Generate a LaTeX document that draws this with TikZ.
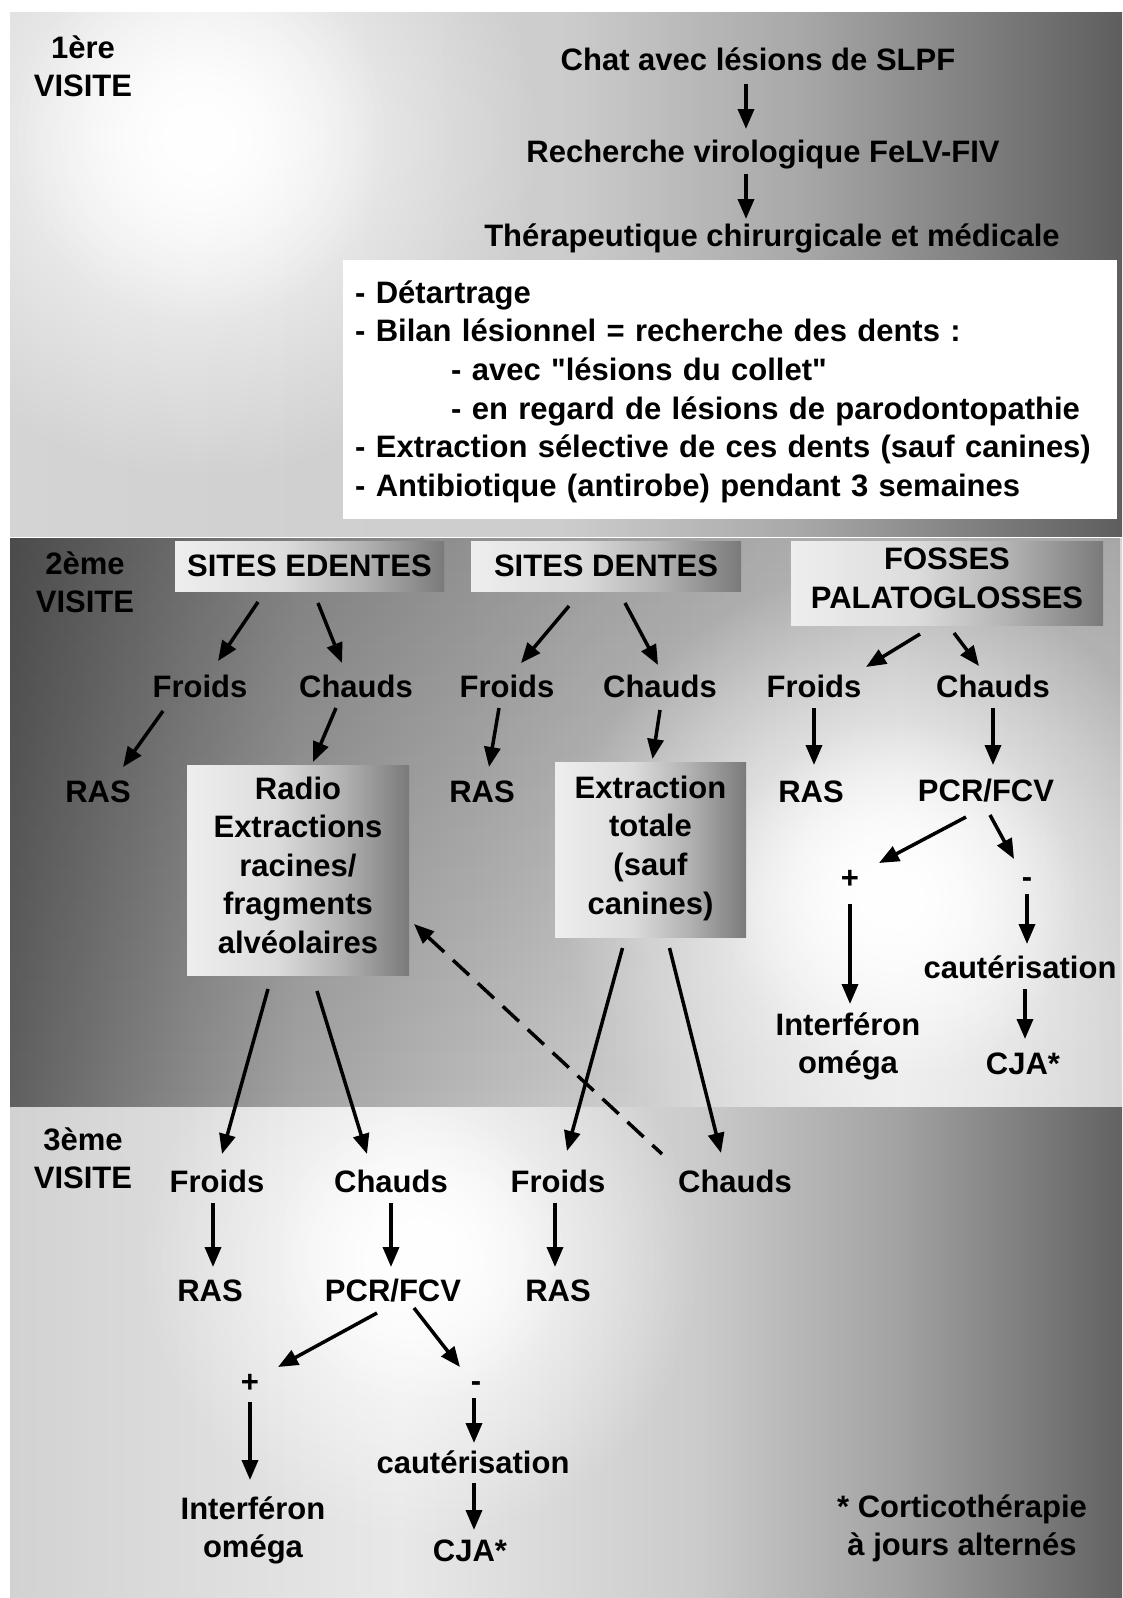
\documentclass[tikz,border=0pt]{standalone}
\usepackage{fontspec}
\setmainfont{Liberation Sans}[Ligatures=TeXOff]
\usetikzlibrary{arrows.meta,fadings}

\definecolor{aA}{HTML}{D4D4D4}\definecolor{aB}{HTML}{CDCDCD}\definecolor{aC}{HTML}{A8A8A8}\definecolor{aD}{HTML}{7A7A7A}\definecolor{aE}{HTML}{5E5E5E}
\definecolor{bA}{HTML}{606060}\definecolor{bB}{HTML}{A4A4A4}\definecolor{bC}{HTML}{CACACA}\definecolor{bD}{HTML}{E6E6E6}\definecolor{bE}{HTML}{D6D6D6}
\definecolor{cA}{HTML}{D2D2D2}\definecolor{cB}{HTML}{E8E8E8}\definecolor{cC}{HTML}{CBCBCB}\definecolor{cD}{HTML}{A2A2A2}\definecolor{cE}{HTML}{626262}
\definecolor{xA}{HTML}{EEEEEE}\definecolor{xB}{HTML}{DCDCDC}\definecolor{xC}{HTML}{B2B2B2}\definecolor{xD}{HTML}{7A7A7A}

\pgfdeclarehorizontalshading{bandA}{100bp}{color(0bp)=(aA); color(25bp)=(aA); color(49.7bp)=(aB); color(60.5bp)=(aC); color(69.5bp)=(aD); color(75bp)=(aE); color(100bp)=(aE)}
\pgfdeclarehorizontalshading{bandB}{100bp}{color(0bp)=(bA); color(25bp)=(bA); color(38bp)=(bB); color(51.5bp)=(bC); color(65bp)=(bD); color(75bp)=(bE); color(100bp)=(bE)}
\pgfdeclarehorizontalshading{bandC}{100bp}{color(0bp)=(cA); color(25bp)=(cA); color(42.5bp)=(cB); color(56bp)=(cC); color(65bp)=(cD); color(75bp)=(cE); color(100bp)=(cE)}
\pgfdeclarehorizontalshading{boxsh}{100bp}{color(0bp)=(xA); color(25bp)=(xA); color(45bp)=(xB); color(60bp)=(xC); color(75bp)=(xD); color(100bp)=(xD)}

\tikzfading[name=spot, inner color=transparent!0, outer color=transparent!100]
\tikzfading[name=topdark, top color=transparent!0, bottom color=transparent!100]

\newcommand\dfont{\bfseries\fontsize{31pt}{38.6pt}\selectfont}

\tikzset{
  lbl/.style={font=\dfont, inner sep=0pt, align=center,
    execute at begin node=\rule{0pt}{30pt},
    execute at end node=\rule[-10pt]{0pt}{10pt}},
  gbox/.style={lbl, shade, shading=boxsh},
  arr/.style={line width=3.5pt, -{Triangle[length=20pt,width=16pt]}},
  darr/.style={line width=3.5pt, dash pattern=on 22pt off 12pt, {Triangle[length=20pt,width=16pt]}-},
}

\begin{document}
\begin{tikzpicture}[x=1pt,y=-1pt]
\useasboundingbox (0,0) rectangle (1122,1598);
\fill[white] (0,0) rectangle (1122,1598);

% band 1
\shade[shading=bandA] (10,12) rectangle (1122,536);
\begin{scope}
  \clip (10,12) rectangle (1122,536);
  \fill[white, path fading=spot] (200,140) circle (340pt);
  \fill[white, path fading=spot] (200,135) circle (190pt);
\end{scope}
% band 2
\shade[shading=bandB] (10,538) rectangle (1122,1106);
\begin{scope}
  \clip (10,538) rectangle (1122,1106);
  \fill[black, opacity=0.22, path fading=topdark] (10,538) rectangle (1122,1106);
  \fill[white, path fading=spot] (880,890) circle (320pt);
  \fill[white, path fading=spot] (900,900) circle (180pt);
\end{scope}
% band 3
\shade[shading=bandC] (10,1107) rectangle (1122,1598);
\begin{scope}
  \clip (10,1107) rectangle (1122,1598);
  \fill[white, path fading=spot] (420,1260) circle (280pt);
  \fill[white, path fading=spot] (420,1255) circle (150pt);
\end{scope}

% ---------- 1st visit
\node[lbl] (v1) at (83,71) {1ère\\VISITE};
\node[lbl] (chat) at (758,60) {Chat avec lésions de SLPF};
\node[lbl] (rech) at (763,152) {Recherche virologique FeLV-FIV};
\node[lbl] (ther) at (772,236) {Thérapeutique chirurgicale et médicale};
\node[lbl, fill=white, anchor=north west, minimum width=771pt, minimum height=259pt,
      align=left, text width=750pt, inner xsep=12pt] (list) at (343,260)
  {- Détartrage\\
   - Bilan lésionnel = recherche des dents :\\
   \hspace*{96pt}- avec "lésions du collet"\\
   \hspace*{96pt}- en regard de lésions de parodontopathie\\
   - Extraction sélective de ces dents (sauf canines)\\
   - Antibiotique (antirobe) pendant 3 semaines};

\draw[arr] ([shift={(-12,24)}]chat.center) -- ([shift={(-17,-23)}]rech.center);
\draw[arr] ([shift={(-17,22)}]rech.center) -- ([shift={(-26,-17)}]ther.center);

% ---------- 2nd visit
\node[lbl] (v2) at (85,587) {2ème\\VISITE};
\node[gbox, minimum width=269pt, minimum height=50pt] (se) at (309.5,566) {SITES EDENTES};
\node[gbox, minimum width=270pt, minimum height=50pt] (sd) at (606,566) {SITES DENTES};
\node[gbox, minimum width=312pt, minimum height=84pt] (fp) at (947,583) {FOSSES\\PALATOGLOSSES};

\node[lbl] (f1) at (200,687) {Froids};
\node[lbl] (c1) at (356,687) {Chauds};
\node[lbl] (f2) at (507,687) {Froids};
\node[lbl] (c2) at (660,687) {Chauds};
\node[lbl] (f3) at (814,687) {Froids};
\node[lbl] (c3) at (993,687) {Chauds};

\node[lbl] (r1) at (98,792) {RAS};
\node[gbox, minimum width=222pt, minimum height=210pt] (radio) at (298,870)
  {Radio\\Extractions\\racines/\\fragments\\alvéolaires};
\node[lbl] (r2) at (482,792) {RAS};
\node[gbox, minimum width=191pt, minimum height=175pt] (ext) at (650.5,850)
  {Extraction\\totale\\(sauf\\canines)};
\node[lbl] (r3) at (811,792) {RAS};
\node[lbl] (pcr1) at (986,791) {PCR/FCV};
\node[lbl] (plus1) at (850,878) {+};
\node[lbl] (minus1) at (1027,877) {-};
\node[lbl] (int1) at (848,1048) {Interféron\\oméga};
\node[lbl] (caut1) at (1020,968) {cautérisation};
\node[lbl] (cja1) at (1023,1064) {CJA*};

\draw[arr] ([shift={(-51.5,36)}]se.center) -- ([shift={(18,-26)}]f1.center);
\draw[arr] ([shift={(8.5,37)}]se.center) -- ([shift={(-14,-24)}]c1.center);
\draw[arr] ([shift={(-37,40)}]sd.center) -- ([shift={(14,-24)}]f2.center);
\draw[arr] ([shift={(19,37)}]sd.center) -- ([shift={(-2,-22)}]c2.center);
\draw[arr] ([shift={(-27,51)}]fp.center) -- ([shift={(52,-20)}]f3.center);
\draw[arr] ([shift={(7,50)}]fp.center) -- ([shift={(-14,-21)}]c3.center);

\draw[arr] ([shift={(-37,24)}]f1.center) -- ([shift={(25,-25)}]r1.center);
\draw[arr] ([shift={(-20,21)}]c1.center) -- ([shift={(15,-108)}]radio.center);
\draw[arr] ([shift={(-8,21)}]f2.center) -- ([shift={(7,-25)}]r2.center);
\draw[arr] ([shift={(0,23)}]c2.center) -- ([shift={(2,-91)}]ext.center);
\draw[arr] ([shift={(0,21)}]f3.center) -- ([shift={(3,-27)}]r3.center);
\draw[arr] ([shift={(0,21)}]c3.center) -- ([shift={(7,-26)}]pcr1.center);
\draw[arr] ([shift={(-20,26)}]pcr1.center) -- ([shift={(29,-15)}]plus1.center);
\draw[arr] ([shift={(4,24)}]pcr1.center) -- ([shift={(-13,-18)}]minus1.center);
\draw[arr] ([shift={(0,26)}]plus1.center) -- ([shift={(2,-44)}]int1.center);
\draw[arr] ([shift={(0,17)}]minus1.center) -- ([shift={(7,-24)}]caut1.center);
\draw[arr] ([shift={(5,21)}]caut1.center) -- ([shift={(2,-25)}]cja1.center);

% ---------- 3rd visit
\node[lbl] (v3) at (83,1163) {3ème\\VISITE};
\node[lbl] (f4) at (217,1182) {Froids};
\node[lbl] (c4) at (391,1182) {Chauds};
\node[lbl] (f5) at (558,1182) {Froids};
\node[lbl] (c5) at (735,1182) {Chauds};
\node[lbl] (r4) at (210,1291) {RAS};
\node[lbl] (pcr2) at (393,1291) {PCR/FCV};
\node[lbl] (r5) at (558,1291) {RAS};
\node[lbl] (plus2) at (250,1382) {+};
\node[lbl] (minus2) at (476,1381) {-};
\node[lbl] (int2) at (253,1532) {Interféron\\oméga};
\node[lbl] (caut2) at (473,1463) {cautérisation};
\node[lbl] (cja2) at (470,1551) {CJA*};
\node[lbl] (note) at (962,1530) {* Corticothérapie\\à jours alternés};

\draw[arr] ([shift={(-30,119)}]radio.center) -- ([shift={(5,-28)}]f4.center);
\draw[arr] ([shift={(19,121)}]radio.center) -- ([shift={(-24,-28)}]c4.center);
\draw[arr] ([shift={(-28,98)}]ext.center) -- ([shift={(9,-31)}]f5.center);
\draw[arr] ([shift={(19,98)}]ext.center) -- ([shift={(-14,-29)}]c5.center);
\draw[darr] ([shift={(116,54)}]radio.center) -- ([shift={(-73,-28)}]c5.center);

\draw[arr] ([shift={(-4,21)}]f4.center) -- ([shift={(3,-24)}]r4.center);
\draw[arr] ([shift={(0,21)}]c4.center) -- ([shift={(-2,-24)}]pcr2.center);
\draw[arr] ([shift={(-3,21)}]f5.center) -- ([shift={(-3,-24)}]r5.center);
\draw[arr] ([shift={(-16,22)}]pcr2.center) -- ([shift={(28,-15)}]plus2.center);
\draw[arr] ([shift={(21,17)}]pcr2.center) -- ([shift={(-16,-14)}]minus2.center);
\draw[arr] ([shift={(0,20)}]plus2.center) -- ([shift={(-3,-52)}]int2.center);
\draw[arr] ([shift={(-2,17)}]minus2.center) -- ([shift={(1,-20)}]caut2.center);
\draw[arr] ([shift={(1,20)}]caut2.center) -- ([shift={(4,-21)}]cja2.center);
\end{tikzpicture}
\end{document}
